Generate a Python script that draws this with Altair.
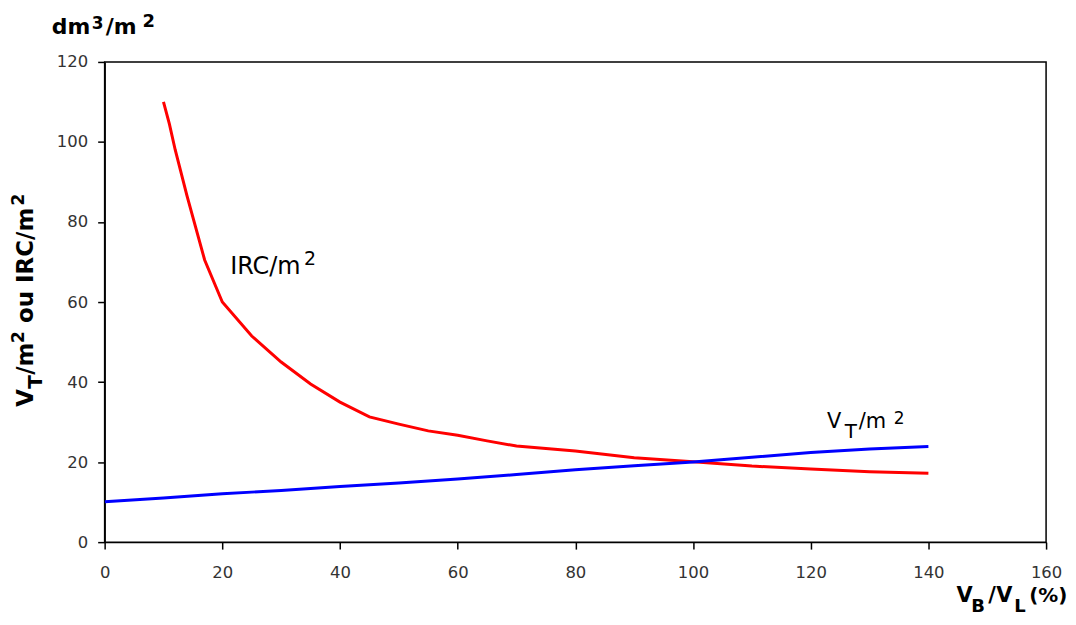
import altair as alt
import pandas as pd

# ---- data ----
vt_x = [0, 10, 20, 30, 40, 50, 60, 70, 80, 90, 100, 110, 120, 130, 140]
vt_y = [10.1, 11.0, 12.1, 12.9, 13.9, 14.8, 15.8, 16.9, 18.1, 19.1, 20.0, 21.2, 22.4, 23.3, 23.9]

irc_x = [10, 11, 12, 14, 17, 20, 25, 30, 35, 40, 45, 50, 55, 60, 65, 70, 80, 90, 100, 110, 120, 130, 140]
irc_y = [110, 104.5, 98, 86.5, 70.5, 60, 51.5, 45, 39.5, 35, 31.3, 29.5, 27.8, 26.7, 25.3, 24.0, 22.8, 21.1, 20.1, 19.0, 18.3, 17.6, 17.2]

x_ticks = [0, 20, 40, 60, 80, 100, 120, 140, 160]
y_ticks = [0, 20, 40, 60, 80, 100, 120]

series = ["IRC/m2"] * len(irc_x) + ["VT/m2"] * len(vt_x)
df = pd.DataFrame({
    "x": irc_x + vt_x,
    "y": irc_y + vt_y,
    "s": series,
})

F = "DejaVu Sans"
W, H = 945, 482

axis_common = dict(title=None, grid=False, tickSize=7, labelFontSize=16.5,
                   labelFont=F, labelColor="#333333", domainColor="black",
                   tickColor="black", domainWidth=1.5, tickWidth=1.5,
                   labelFlush=False, labelOverlap=False)

lines = alt.Chart(df).mark_line(strokeWidth=3, clip=True).encode(
    x=alt.X("x:Q", scale=alt.Scale(domain=[0, 160], nice=False),
            axis=alt.Axis(values=x_ticks, labelPadding=16, **axis_common)),
    y=alt.Y("y:Q", scale=alt.Scale(domain=[0, 120], nice=False),
            axis=alt.Axis(values=y_ticks, labelPadding=10, **axis_common)),
    color=alt.Color("s:N", scale=alt.Scale(domain=["IRC/m2", "VT/m2"],
                                           range=["#ff0000", "#0000ff"]),
                    legend=None),
    detail="s:N",
)


def txt(t, x, y, size, weight="normal", angle=0):
    return alt.Chart(pd.DataFrame({"t": [t]})).mark_text(
        align="left", baseline="alphabetic", font=F, fontSize=size,
        fontWeight=weight, angle=angle, color="black"
    ).encode(x=alt.value(x), y=alt.value(y), text="t:N")


texts = [
    # top-left unit
    txt("dm", -53, -28, 22, "bold"),
    txt("3", -13, -33, 17, "bold"),
    txt("/m", 1, -28, 22, "bold"),
    txt("2", 38, -35, 18, "bold"),
    # y title (rotated)
    txt("V", -72, 346, 23, "bold", 270),
    txt("T", -63, 328, 20, "bold", 270),
    txt("/m", -72, 314, 23, "bold", 270),
    txt("2", -81, 282, 17, "bold", 270),
    txt("ou IRC/m", -72, 262, 23, "bold", 270),
    txt("2", -81, 144, 17, "bold", 270),
    # x title
    txt("V", 855, 542, 21, "bold"),
    txt("B", 870, 552, 18, "bold"),
    txt("/", 887, 542, 21, "bold"),
    txt("V", 895, 542, 21, "bold"),
    txt("L", 913, 552, 18, "bold"),
    txt("(%)", 928, 542, 20, "bold"),
    # curve labels
    txt("IRC/m", 126, 213, 24),
    txt("2", 200, 204, 19),
    txt("V", 725, 367, 21),
    txt("T", 743, 377, 20),
    txt("/m", 757, 367, 21),
    txt("2", 792, 363, 17),
]

chart = alt.layer(lines, *texts).properties(
    width=W, height=H,
    autosize=alt.AutoSizeParams(type="none"),
    padding={"left": 97, "top": 53, "right": 22, "bottom": 72},
).configure(
    background="white",
    view=alt.ViewConfig(stroke="black", strokeWidth=1.5),
)

chart.save("out.html", embed_options={"renderer": "svg", "actions": False})
